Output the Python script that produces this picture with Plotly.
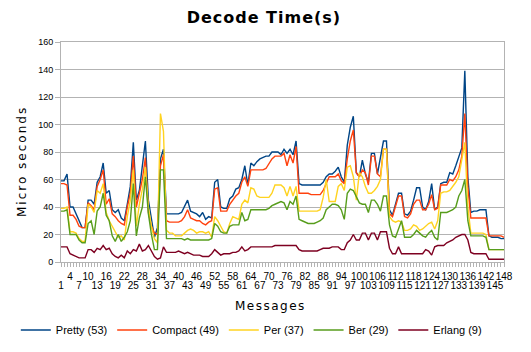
import plotly.graph_objects as go

messages = list(range(1, 149))

pretty = [59, 59, 64, 40, 40, 35, 30, 25, 25, 45, 45, 42, 58, 62, 72, 50, 52, 38, 36, 38,
          32, 30, 42, 55, 87, 45, 52, 70, 88, 45, 30, 18, 25, 75, 82, 35, 35, 35, 35, 35,
          36, 40, 45, 37, 36, 35, 33, 36, 31, 33, 32, 58, 60, 40, 39, 39, 46, 48, 53, 54,
          60, 70, 56, 72, 70, 73, 75, 76, 77, 77, 80, 80, 80, 78, 82, 79, 82, 78, 88, 57,
          56, 56, 56, 56, 56, 56, 56, 58, 62, 64, 64, 66, 69, 62, 58, 85, 98, 106, 65, 62,
          74, 64, 58, 79, 79, 64, 77, 88, 88, 38, 34, 42, 50, 50, 35, 34, 37, 45, 54, 54,
          40, 38, 44, 57, 38, 40, 57, 58, 58, 65, 64, 70, 77, 83, 139, 62, 36, 37, 37, 38,
          38, 38, 19, 18, 18, 18, 17, 17]
compact = [57, 57, 56, 34, 34, 31, 26, 25, 25, 43, 41, 38, 55, 60, 67, 42, 46, 35, 33, 30,
           28, 27, 40, 50, 77, 40, 50, 60, 76, 36, 26, 21, 20, 70, 78, 30, 29, 29, 29, 29,
           30, 33, 38, 32, 31, 30, 30, 28, 27, 29, 30, 53, 54, 37, 37, 37, 42, 45, 48, 50,
           58, 62, 55, 67, 67, 67, 67, 67, 68, 72, 75, 77, 77, 77, 79, 70, 78, 72, 84, 50,
           50, 50, 50, 49, 49, 49, 49, 52, 57, 62, 62, 62, 64, 59, 57, 75, 88, 96, 65, 62,
           67, 65, 56, 77, 77, 64, 62, 82, 82, 35, 33, 40, 48, 48, 33, 32, 35, 42, 45, 45,
           38, 38, 42, 49, 38, 39, 56, 56, 56, 60, 59, 62, 67, 77, 108, 55, 32, 32, 32, 32,
           32, 32, 19, 19, 19, 19, 19, 18]
per = [39, 39, 40, 22, 22, 21, 17, 15, 15, 42, 40, 36, 52, 50, 57, 36, 30, 26, 21, 18,
       19, 16, 33, 45, 67, 26, 42, 53, 69, 40, 26, 17, 14, 108, 95, 23, 21, 21, 19, 19,
       19, 21, 23, 24, 23, 21, 22, 22, 21, 22, 18, 33, 30, 26, 22, 21, 28, 33, 32, 31,
       42, 45, 43, 54, 53, 48, 47, 47, 47, 47, 50, 56, 56, 56, 54, 48, 55, 48, 55, 37,
       37, 37, 37, 37, 37, 37, 38, 47, 60, 44, 44, 44, 55, 57, 52, 69, 70, 62, 45, 65,
       62, 55, 50, 50, 52, 55, 60, 82, 82, 33, 30, 29, 30, 29, 23, 23, 24, 27, 26, 23,
       24, 26, 28, 29, 24, 30, 50, 51, 51, 52, 55, 58, 62, 76, 87, 40, 21, 21, 21, 21,
       21, 20, 9, 9, 9, 9, 9, 9]
ber = [37, 37, 38, 20, 20, 20, 16, 14, 14, 28, 30, 20, 37, 40, 50, 34, 30, 19, 15, 20,
       15, 18, 22, 30, 57, 19, 32, 40, 62, 35, 20, 9, 9, 67, 67, 17, 17, 17, 17, 17,
       17, 16, 17, 16, 16, 16, 16, 16, 16, 16, 17, 28, 26, 22, 21, 21, 26, 27, 27, 27,
       36, 30, 31, 38, 38, 38, 38, 38, 38, 39, 41, 42, 43, 44, 43, 38, 44, 42, 48, 31,
       30, 29, 28, 28, 28, 29, 30, 32, 38, 40, 42, 42, 41, 38, 31, 50, 53, 52, 48, 43,
       42, 42, 36, 45, 45, 42, 37, 48, 48, 27, 19, 18, 24, 30, 18, 18, 18, 20, 23, 21,
       19, 18, 21, 23, 18, 16, 36, 36, 36, 37, 38, 40, 48, 52, 60, 30, 19, 19, 19, 19,
       19, 18, 9, 9, 9, 9, 9, 9]
erlang = [11, 11, 11, 6, 5, 4, 3, 3, 3, 9, 9, 7, 10, 9, 12, 9, 10, 6, 4, 3,
          5, 3, 8, 6, 9, 8, 13, 8, 9, 12, 8, 4, 2, 3, 11, 7, 7, 7, 7, 8,
          7, 6, 7, 6, 5, 5, 5, 4, 4, 4, 6, 9, 7, 5, 6, 6, 6, 7, 7, 8,
          11, 8, 9, 11, 11, 11, 11, 11, 11, 11, 11, 12, 12, 12, 12, 12, 12, 12, 12, 9,
          8, 8, 8, 8, 8, 8, 9, 10, 10, 10, 11, 11, 11, 9, 9, 14, 16, 20, 16, 16,
          21, 21, 16, 21, 21, 16, 22, 22, 22, 10, 6, 6, 11, 6, 6, 6, 6, 6, 6, 6,
          6, 9, 8, 5, 11, 12, 12, 12, 14, 15, 16, 18, 19, 20, 20, 16, 7, 6, 6, 6,
          6, 6, 2, 2, 2, 2, 2, 2]

series_names = ["Pretty (53)", "Compact (49)", "Per (37)", "Ber (29)", "Erlang (9)"]
series_values = [pretty, compact, per, ber, erlang]
colors = ["#004586", "#ff420e", "#ffd320", "#579d1c", "#7e0021"]

tick_vals = list(range(1, 149, 3))
upper_ticks = [v for k, v in enumerate(tick_vals) if k % 2 == 1]
lower_ticks = [v for k, v in enumerate(tick_vals) if k % 2 == 0]

fig = go.Figure()
for name, vals, col in zip(series_names, series_values, colors):
    fig.add_trace(go.Scatter(x=messages, y=vals, name=name, mode="lines",
                             line=dict(color=col, width=1.4)))

fig.update_layout(
    width=531, height=352,
    margin=dict(l=61, r=27, t=42, b=90, autoexpand=False),
    paper_bgcolor="white", plot_bgcolor="white",
    font=dict(family="Liberation Sans, Arial, sans-serif", color="#000000", size=10),
    title=dict(text="<span style='letter-spacing:1px'><b>Decode Time(s)</b></span>",
               x=0.497, xanchor="center", y=0.95, yanchor="middle",
               font=dict(family="DejaVu Sans", size=16, color="#000000")),
    showlegend=True,
    legend=dict(orientation="h", x=-0.102, xanchor="left", y=-0.309, yanchor="middle",
                font=dict(size=11), itemwidth=30, tracegroupgap=0,
                bgcolor="rgba(0,0,0,0)"),
    xaxis=dict(
        range=[1, 148], tickmode="array", tickvals=upper_ticks,
        ticktext=[str(v) for v in upper_ticks],
        tickangle=0, ticks="outside", ticklen=4, tickcolor="#b3b3b3",
        minor=dict(dtick=1, tick0=1, ticks="outside", ticklen=4, tickcolor="#b3b3b3"),
        showline=True, linecolor="#b3b3b3", linewidth=1, mirror=True,
        showgrid=False, zeroline=False, tickfont=dict(size=10), ticklabelstandoff=1,
    ),
    xaxis2=dict(
        range=[1, 148], overlaying="x", side="bottom", anchor="y",
        tickmode="array", tickvals=lower_ticks, ticktext=[str(v) for v in lower_ticks],
        tickangle=0, ticks="", showline=False, showgrid=False, zeroline=False,
        tickfont=dict(size=10), ticklabelstandoff=16,
    ),
    yaxis=dict(
        range=[0, 160], dtick=20, ticks="outside", ticklen=5, tickcolor="#b3b3b3",
        showline=True, linecolor="#b3b3b3", linewidth=1, mirror=True,
        showgrid=True, gridcolor="#b3b3b3", gridwidth=1, zeroline=False,
        tickfont=dict(size=9),
    ),
    annotations=[
        dict(text="<span style='letter-spacing:1.5px'>Messages</span>",
             xref="paper", yref="paper", x=(270 - 61) / 443, y=(262 - 306) / 220,
             xanchor="center", yanchor="middle", showarrow=False,
             font=dict(family="DejaVu Sans", size=12)),
        dict(text="<span style='letter-spacing:2px'>Micro seconds</span>",
             xref="paper", yref="paper", x=(22 - 61) / 443, y=(262 - 162) / 220,
             xanchor="center", yanchor="middle", textangle=-90, showarrow=False,
             font=dict(family="DejaVu Sans", size=12)),
    ],
)
# invisible helper trace so the second-row label axis is drawn
fig.add_trace(go.Scatter(x=[1, 148], y=[None, None], xaxis="x2", showlegend=False,
                         hoverinfo="skip", mode="lines"))

fig.write_html("out.html")
